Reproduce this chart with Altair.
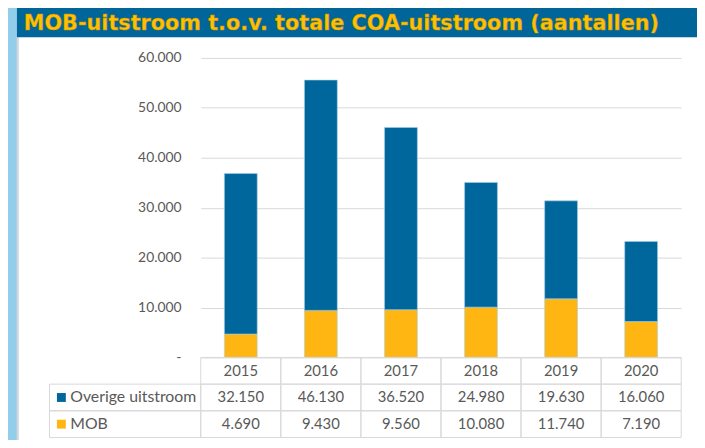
import altair as alt
import pandas as pd

years = ["2015", "2016", "2017", "2018", "2019", "2020"]
overige = [32150, 46130, 36520, 24980, 19630, 16060]
mob = [4690, 9430, 9560, 10080, 11740, 7190]
series_names = ["Overige uitstroom", "MOB"]
series_colors = ["#00679D", "#FFB612"]
y_ticks = [0, 10000, 20000, 30000, 40000, 50000, 60000]
title_text = "MOB-uitstroom t.o.v. totale COA-uitstroom (aantallen)"
row_keys = ["header", "Overige uitstroom", "MOB"]

FONT = "Lato"
TXT = "#595959"
GRID = "#D9D9D9"
W, H = 486, 303


def nl(v):
    return f"{v:,}".replace(",", ".")


# bar data
recs = []
for i, y in enumerate(years):
    recs.append({"year": y, "series": "MOB", "value": mob[i], "ord": 0})
    recs.append({"year": y, "series": "Overige uitstroom", "value": overige[i], "ord": 1})
bars_df = pd.DataFrame(recs)

# table data
cells = []
for i, y in enumerate(years):
    cells.append({"year": y, "row": "header", "label": y})
    cells.append({"year": y, "row": "Overige uitstroom", "label": nl(overige[i])})
    cells.append({"year": y, "row": "MOB", "label": nl(mob[i])})
cells_df = pd.DataFrame(cells)
legend_df = pd.DataFrame({"row": series_names, "series": series_names})

color_scale = alt.Scale(domain=series_names, range=series_colors)
bar_x_scale = alt.Scale(domain=years, paddingInner=0.59, paddingOuter=0.295)
tab_x_scale = alt.Scale(domain=years, paddingInner=0, paddingOuter=0)
row_scale = alt.Scale(type="band", domain=row_keys, range=[H, H + 81], paddingInner=0, paddingOuter=0)

label_expr = ("datum.value == 0 ? '-\u00a0\u00a0\u00a0' : "
              "replace(format(datum.value, ','), ',', '.')")

bars = alt.Chart(bars_df).mark_bar(stroke="#A9CDE6", strokeWidth=0.6).encode(
    x=alt.X("year:N", scale=bar_x_scale, axis=None),
    y=alt.Y("value:Q", stack="zero",
            scale=alt.Scale(domain=[0, 60000], nice=False),
            axis=alt.Axis(values=y_ticks, labelExpr=label_expr, title=None,
                          domain=False, ticks=False, grid=True, gridColor=GRID,
                          gridWidth=1, labelPadding=20, labelFont=FONT,
                          labelFontSize=14, labelColor=TXT)),
    color=alt.Color("series:N", scale=color_scale, legend=None),
    order=alt.Order("ord:Q"),
)

# decorations
strip = alt.Chart(pd.DataFrame({"a": [0]})).mark_rect(color="#92CDEA").encode(
    x=alt.value(-203), x2=alt.value(-186), y=alt.value(-56), y2=alt.value(400))
strip_line = alt.Chart(pd.DataFrame({"a": [0]})).mark_rect(color="#D5D8DC").encode(
    x=alt.value(-186), x2=alt.value(-184), y=alt.value(-21), y2=alt.value(400))
title_bar = alt.Chart(pd.DataFrame({"a": [0]})).mark_rect(color="#00669A").encode(
    x=alt.value(-186), x2=alt.value(510), y=alt.value(-56), y2=alt.value(-21))
title = alt.Chart(pd.DataFrame({"t": [title_text]})).mark_text(
    font="DejaVu Sans", fontSize=21, fontWeight="bold", color="#FFC000",
    stroke="#C98A00", strokeWidth=0.4, align="left", baseline="alphabetic"
).encode(x=alt.value(-179), y=alt.value(-28), text="t:N")

# table
cell_rects = alt.Chart(cells_df).mark_rect(fillOpacity=0, stroke=GRID, strokeWidth=1).encode(
    x=alt.X("year:N", scale=tab_x_scale, axis=None),
    y=alt.Y("row:N", scale=row_scale, axis=None),
)
cell_text = alt.Chart(cells_df).mark_text(font=FONT, fontSize=15, color=TXT,
                                           baseline="middle").encode(
    x=alt.X("year:N", scale=tab_x_scale, axis=None),
    y=alt.Y("row:N", scale=row_scale, axis=None),
    text="label:N",
)
leg_rects = alt.Chart(legend_df).mark_rect(fillOpacity=0, stroke=GRID, strokeWidth=1).encode(
    x=alt.value(-153), x2=alt.value(0),
    y=alt.Y("row:N", scale=row_scale, axis=None),
)
leg_marks = alt.Chart(legend_df).mark_point(shape="square", filled=True, size=81, opacity=1).encode(
    x=alt.value(-141),
    y=alt.Y("row:N", scale=row_scale, axis=None),
    color=alt.Color("series:N", scale=color_scale, legend=None),
)
leg_text = alt.Chart(legend_df).mark_text(font=FONT, fontSize=16, color=TXT,
                                          align="left", baseline="middle").encode(
    x=alt.value(-132),
    y=alt.Y("row:N", scale=row_scale, axis=None),
    text="row:N",
)

chart = alt.layer(
    strip, strip_line, title_bar, title,
    bars,
    cell_rects, cell_text, leg_rects, leg_marks, leg_text,
).resolve_scale(x="independent", y="independent", color="shared").properties(
    width=W, height=H,
    autosize=alt.AutoSizeParams(type="none"),
    padding={"left": 195, "top": 48, "right": 16, "bottom": 81},
    background="white",
).configure_view(stroke=None)

chart.save("out.html", embed_options={"renderer": "svg", "actions": False})
